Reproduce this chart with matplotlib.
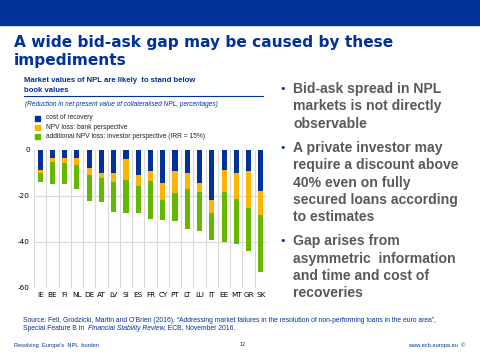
import matplotlib.pyplot as plt
import numpy as np

countries = ["IE", "BE", "FI", "NL", "DE", "AT", "LV", "SI", "ES", "FR",
             "CY", "PT", "LT", "LU", "IT", "EE", "MT", "GR", "SK"]
cost_recovery = [8.8, 3.3, 3.3, 3.3, 8.0, 9.9, 9.9, 3.8, 11.0, 9.1,
                 14.5, 9.0, 9.9, 14.5, 21.9, 8.8, 9.9, 9.0, 17.8]
npv_bank = [1.2, 1.9, 2.2, 3.2, 2.9, 2.4, 4.0, 9.4, 4.7, 4.4,
            7.1, 9.7, 6.9, 3.8, 5.3, 9.3, 11.3, 16.0, 10.3]
npv_investor = [3.8, 9.6, 9.3, 10.6, 11.3, 10.3, 13.1, 14.0, 11.8, 16.6,
                8.7, 12.3, 17.7, 16.9, 11.9, 21.9, 19.5, 19.0, 24.9]
labels = ["cost of recovery", "NPV loss: bank perspective",
          "additional NPV loss: investor perspective (IRR = 15%)"]
bullets = [
    ["Bid-ask spread in NPL", "markets is not directly", "observable"],
    ["A private investor may", "require a discount above", "40% even on fully",
     "secured loans according", "to estimates"],
    ["Gap arises from", "asymmetric  information", "and time and cost of",
     "recoveries"],
]

blue = "#003299"
orange = "#ffb400"
green = "#65b800"
grey = "#595959"

fig = plt.figure(figsize=(4.8, 3.6), dpi=100)
W, H = 480.0, 360.0

# header band
fig.patches.append(plt.Rectangle((0, 1 - 25 / H), 1, 25 / H, transform=fig.transFigure,
                                 color=blue, zorder=0))

fig.text(14 / W, 1 - 43 / H, "A wide bid-ask gap may be caused by these", color=blue,
         fontsize=11.1, fontweight="bold", va="center", family="DejaVu Sans")
fig.text(14 / W, 1 - 61 / H, "impediments", color=blue,
         fontsize=11.1, fontweight="bold", va="center", family="DejaVu Sans")

fig.text(24 / W, 1 - 80 / H, "Market values of NPL are likely  to stand below", color=blue,
         fontsize=5.6, fontweight="bold", va="center", family="Liberation Sans")
fig.text(24 / W, 1 - 90 / H, "book values", color=blue,
         fontsize=5.6, fontweight="bold", va="center", family="Liberation Sans")
fig.add_artist(plt.Line2D([24 / W, 263 / W], [1 - 96 / H, 1 - 96 / H], color=blue, lw=0.8))
fig.text(25 / W, 1 - 104 / H,
         "(Reduction in net present value of collateralised NPL, percentages)",
         color=blue, fontsize=4.7, style="italic", va="center", family="Liberation Sans")

ax = fig.add_axes([34 / W, 1 - 288 / H, 233 / W, 138 / H])
x = np.arange(len(countries))
c = np.array(cost_recovery)
b = np.array(npv_bank)
i = np.array(npv_investor)
ax.bar(x, -c, 0.42, color=blue, zorder=3)
ax.bar(x, -b, 0.42, bottom=-c, color=orange, zorder=3)
ax.bar(x, -i, 0.42, bottom=-c - b, color=green, zorder=3)

ax.set_xlim(-0.5, len(countries) - 0.5)
ax.set_ylim(-60, 0)
ax.set_yticks([0, -20, -40, -60])
ax.set_yticklabels(["0", "-20", "-40", "-60"])
ax.set_xticks(x)
ax.set_xticklabels(countries)
for pos in np.arange(-0.5, len(countries), 1.0):
    ax.axvline(pos, color="#d9d9d9", lw=0.8, zorder=1)
for yv in [-20, -40, -60]:
    ax.axhline(yv, color="#d9d9d9", lw=0.8, zorder=1)
for s in ax.spines.values():
    s.set_visible(False)
ax.tick_params(length=0, labelsize=5.2, pad=3, labelcolor="black")

legend_y = [118, 127, 136]
for lab, col, yy in zip(labels, [blue, orange, green], legend_y):
    fig.patches.append(plt.Rectangle((35 / W, 1 - (yy + 3) / H), 5 / W, 5 / H,
                                     transform=fig.transFigure, color=col))
    fig.text(46 / W, 1 - yy / H, lab, fontsize=4.8, va="center", color="#222222",
             family="Liberation Sans")

yy = 89
for group in bullets:
    fig.text(279 / W, 1 - yy / H, "\u2022", color=blue, fontsize=8, va="center")
    for line in group:
        fig.text(293 / W, 1 - yy / H, line, color=grey, fontsize=10.1, fontweight="bold",
                 va="center", family="Liberation Sans")
        yy += 17.3
    yy += 7

fs = 4.85
fig.text(23 / W, 1 - 320 / H,
         "Source: Fell, Grodzicki, Martin and O'Brien (2016), \u201cAddressing market failures "
         "in the resolution of non-performing loans in the euro area\u201d,",
         color=blue, fontsize=fs, va="center", family="Liberation Sans")

# second source line: regular / italic / regular pieces chained
renderer = fig.canvas.get_renderer()
xpos = 23.0
for piece, st in [("Special Feature B in ", "normal"),
                  ("Financial Stability Review", "italic"),
                  (", ECB, November 2016.", "normal")]:
    t = fig.text(xpos / W, 1 - 328 / H, piece, color=blue, fontsize=fs, va="center",
                 style=st, family="Liberation Sans")
    xpos += t.get_window_extent(renderer).width + (1.5 if piece.endswith(" ") else 0)

fig.text(14 / W, 1 - 345 / H, "Resolving  Europe's  NPL  burden", color=blue, fontsize=4.1,
         va="center", family="Liberation Sans")
fig.text(240 / W, 1 - 345 / H, "12", color=blue, fontsize=4.1, va="center",
         family="Liberation Sans")
fig.text(465 / W, 1 - 345 / H, "www.ecb.europa.eu  \u00a9", color=blue, fontsize=4.1,
         va="center", ha="right", family="Liberation Sans")

fig.savefig("out.png", dpi=100)
